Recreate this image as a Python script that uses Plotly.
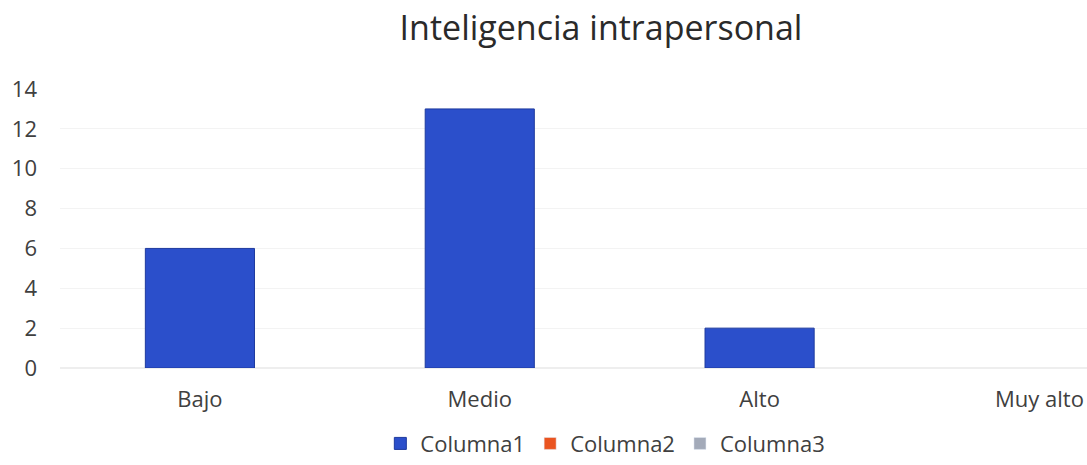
import plotly.graph_objects as go

categorias = ["Bajo", "Medio", "Alto", "Muy alto"]
columna1 = [6, 13, 2, 0]
columna2 = [None, None, None, None]
columna3 = [None, None, None, None]
y_ticks = [0, 2, 4, 6, 8, 10, 12, 14]

alto = 465

fig = go.Figure()
fig.add_trace(go.Bar(x=categorias, y=columna1, name="Columna1",
                     marker=dict(color="#2B4FCB",
                                 line=dict(color="#1E3A9E",
                                           width=[1 if v > 0 else 0 for v in columna1])),
                     width=0.39))
fig.add_trace(go.Bar(x=categorias, y=columna2, name="Columna2",
                     marker_color="#EA5420", width=0.39))
fig.add_trace(go.Bar(x=categorias, y=columna3, name="Columna3",
                     marker_color="#A3AAB9", width=0.39))

fig.update_layout(
    width=1087, height=alto,
    barmode="overlay",
    paper_bgcolor="white", plot_bgcolor="white",
    font=dict(family="'Open Sans', sans-serif", size=22, color="#404040"),
    title=dict(text="Inteligencia intrapersonal", x=601 / 1087, xanchor="center",
               y=1 - 28 / alto, yanchor="middle",
               font=dict(size=34, color="#2a2a2a")),
    margin=dict(l=60, r=0, t=89, b=92),
    showlegend=True,
    legend=dict(orientation="h", x=0.531, xanchor="center", y=-0.271, yanchor="middle",
                font=dict(size=22, color="#404040"), itemwidth=30, traceorder="normal"),
    xaxis=dict(range=[-0.5, 3.17], showline=False, showgrid=False, ticks="",
               ticklabelstandoff=16, automargin=False),
    yaxis=dict(range=[0, 14], tickvals=y_ticks, showline=False, zeroline=True,
               zerolinecolor="#eeeeee", gridcolor="#f3f3f3", ticks="",
               ticklabelstandoff=22, automargin=False),
)

# quitar márgenes y desbordes de la página
ajuste = ("document.body.style.margin='0';"
          "document.body.style.overflow='hidden';"
          "document.documentElement.style.overflow='hidden';")
fig.write_html("out.html", config={"displayModeBar": False}, post_script=ajuste)
